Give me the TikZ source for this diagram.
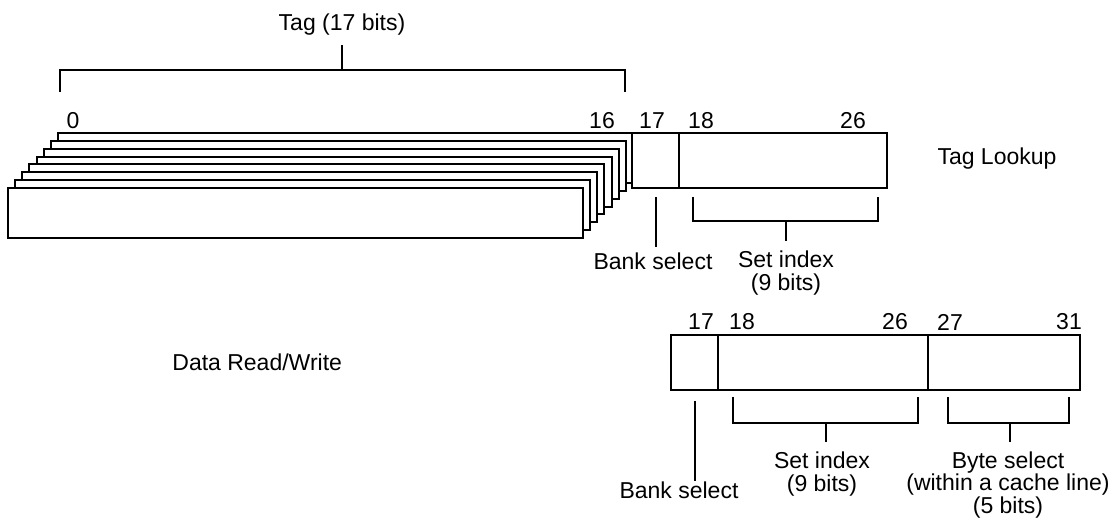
\documentclass[tikz,border=0pt]{standalone}
\usepackage{fontspec}
\setmainfont{Liberation Sans}
\usetikzlibrary{positioning}

\begin{document}
\begin{tikzpicture}[
  x=0.5pt, y=-0.5pt,
  field/.style={rectangle, draw=black, line width=1pt, fill=white,
                inner sep=0pt, outer sep=0pt, minimum height=27.5pt},
  waybox/.style={field, anchor=north west,
                 minimum width=287.5pt, minimum height=25pt},
  lbl/.style={font=\fontsize{11.5}{11.2}\selectfont, inner sep=0pt, align=center},
  brk/.style={line width=1pt, black}
]
  \useasboundingbox (0,0) rectangle (1115,522);

  % tag array, eight ways stacked
  \foreach \i in {7,...,0}
    \node[waybox] (way\i) at ({8+7.14*\i},{188-7.86*\i}) {};

  % tag lookup address
  \node[field, anchor=north west, minimum width=23.5pt] (bank1) at (632,133) {};
  \node[field, right=0pt of bank1, minimum width=104pt] (set1) {};

  % data read/write address
  \node[field, anchor=north west, minimum width=23.5pt] (bank2) at (671,335) {};
  \node[field, right=0pt of bank2, minimum width=105pt] (set2) {};
  \node[field, right=0pt of set2, minimum width=76pt] (byte2) {};

  % bit numbers
  \node[lbl] (b0)  at (73,121)  {0};
  \node[lbl] (b16) at (602,121) {16};
  \node[lbl] (b17) at (652,121) {17};
  \node[lbl] (b18) at (701,121) {18};
  \node[lbl] (b26) at (853,121) {26};

  \node[lbl] (c17) at (701,322)  {17};
  \node[lbl] (c18) at (742,322)  {18};
  \node[lbl] (c26) at (895,322)  {26};
  \node[lbl] (c27) at (950,322)  {27};
  \node[lbl] (c31) at (1069,322) {31};

  % side titles
  \node[lbl] (lookup) at (997,159) {Tag Lookup};
  \node[lbl, anchor=west] (rw) at (172,362) {Data Read/Write};

  % tag field bracket
  \node[lbl] (tagw) at (342,25) {Tag (17 bits)};
  \draw[brk] (60,92) |- (342,70) -| (625,92);
  \draw[brk] (342,70) -- (342,45);

  % bank select, lookup
  \node[lbl] (bsel1) at (653,261) {Bank select};
  \draw[brk] ([yshift=-4.5pt]bank1.south) -- ([yshift=-29.5pt]bank1.south);

  % set index, lookup
  \node[lbl] (sidx1) at (786,273) {Set index\\(9 bits)};
  \draw[brk] (693,197) |- (786,221) -| (878,197);
  \draw[brk] (786,221) -- (786,241);

  % bank select, read/write
  \node[lbl] (bsel2) at (679,490) {Bank select};
  \draw[brk] ([yshift=-5.5pt]bank2.south) -- ([yshift=-45.5pt]bank2.south);

  % set index, read/write
  \node[lbl] (sidx2) at (822,474) {Set index\\(9 bits)};
  \draw[brk] (733,397) |- (826,423) -| (918,397);
  \draw[brk] (826,423) -- (826,442);

  % byte select
  \node[lbl] (bytesel) at (1008,485) {Byte select\\(within a cache line)\\(5 bits)};
  \draw[brk] (948,397) |- (1010,423) -| (1069,397);
  \draw[brk] (1010,423) -- (1010,442);
\end{tikzpicture}
\end{document}
